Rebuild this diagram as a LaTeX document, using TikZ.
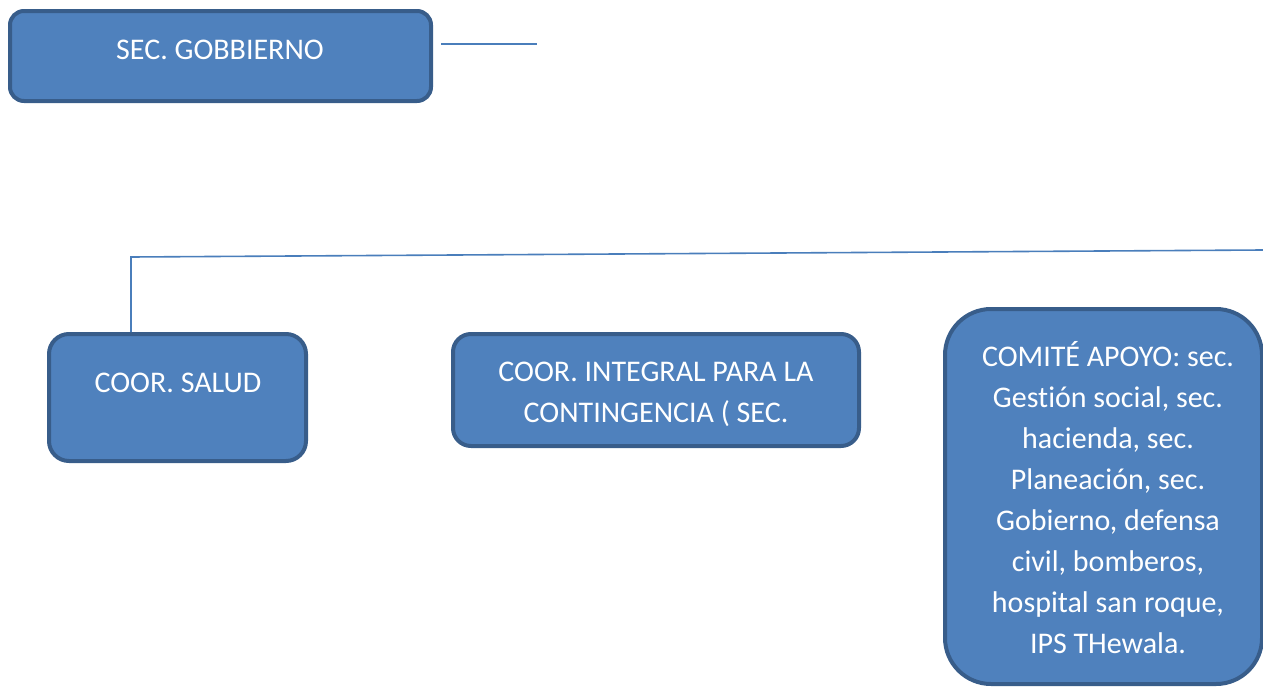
\documentclass[tikz,border=0pt]{standalone}
\usepackage{fontspec}
\setmainfont[Ligatures=NoCommon]{Carlito}
\definecolor{boxfill}{HTML}{4F81BD}
\definecolor{boxline}{HTML}{385D8A}
\definecolor{conn}{HTML}{4A7EBB}
\begin{document}
\begin{tikzpicture}[x=1pt,y=-1pt,
  box/.style={draw=boxline, fill=boxfill, line width=4pt, inner sep=0pt},
  lbl/.style={text=white, font=\fontsize{30}{41}\selectfont, align=center, inner sep=0pt, anchor=base},
  wire/.style={draw=conn, line width=1.6pt}]
\useasboundingbox (0,0) rectangle (1263,688);
% boxes
\node[box, rounded corners=14pt, minimum width=421pt, minimum height=90pt] (b1) at (220.5,56) {};
\node[box, rounded corners=20pt, minimum width=257pt, minimum height=127pt] (b2) at (177.5,397.5) {};
\node[box, rounded corners=18pt, minimum width=406pt, minimum height=112pt] (b3) at (656,390) {};
\node[box, rounded corners=46pt, minimum width=317pt, minimum height=375pt] (b4) at (1103.5,496.5) {};
% texts (base = baseline of last line)
\node[lbl] (t1) at (220,59) {SEC. GOBBIERNO};
\node[lbl] (t2) at (178,392) {COOR. SALUD};
\node[lbl] (t3) at (656,422) {COOR. INTEGRAL PARA LA\\CONTINGENCIA ( SEC.};
\node[lbl] (t4) at (1108,653) {COMITÉ APOYO: sec.\\Gestión social, sec.\\hacienda, sec.\\Planeación, sec.\\Gobierno, defensa\\civil, bomberos,\\hospital san roque,\\IPS THewala.};
% connectors
\coordinate (g1) at (441,44);
\coordinate (g2) at (537,44);
\draw[wire] (g1) -- (g2);
\coordinate (h1) at (131,257);
\coordinate (h2) at (1263,250);
\draw[wire] (h2) -- (h1) -- (h1 |- b2.north);
\end{tikzpicture}
\end{document}
